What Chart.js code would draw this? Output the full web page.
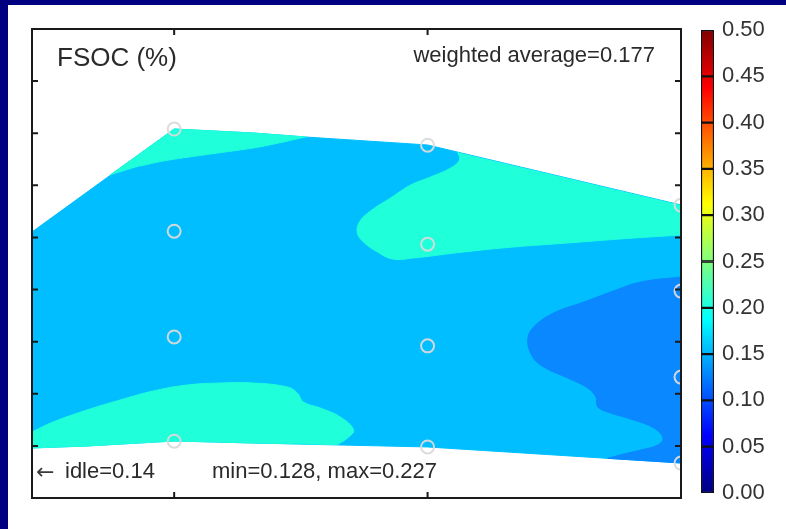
<!DOCTYPE html>
<html>
<head>
<meta charset="utf-8">
<script src="https://cdn.jsdelivr.net/npm/chart.js@4.4.1/dist/chart.umd.min.js"></script>
<style>
html,body{margin:0;padding:0;background:#000080;width:786px;height:529px;overflow:hidden}
#panel{position:absolute;left:8px;top:5px;width:778px;height:524px;background:#fff}
#c1{position:absolute;left:8px;top:5px}
#c2{position:absolute;left:690px;top:0px}
</style>
</head>
<body>
<div id="panel"></div>
<canvas id="c1" width="778" height="524"></canvas>
<canvas id="c2" width="96" height="529"></canvas>
<script>
// ---- data (x: speed units, y: load units) ----
const xTicks = [1, 2];
const yTicks = [1, 2, 3, 4, 5, 6, 7, 8];
const colorLevels = [0.00, 0.05, 0.10, 0.15, 0.20, 0.25, 0.30, 0.35, 0.40, 0.45, 0.50];

const pointX = [1, 1, 1, 1, 2, 2, 2, 2, 3, 3, 3, 3];
const pointY = [7.08, 5.12, 3.09, 1.09, 6.77, 4.87, 2.92, 0.98, 5.62, 3.97, 2.32, 0.67];

// band 0.15-0.20 (whole map hull)
const hullX = [0.439, 1.0, 1.312, 1.518, 2.0, 3.0, 3.0, 2.0, 1.312, 1.0, 0.656, 0.439];
const hullY = [5.105, 7.081, 7.004, 6.928, 6.774, 5.623, 0.672, 0.979, 1.055, 1.094, 0.998, 0.960];

// band 0.20-0.25, top-left sliver
const tealTLX = [0.745, 1.0, 1.312, 1.518, 1.40, 1.312, 1.115, 0.957, 0.866];
const tealTLY = [6.19, 7.081, 7.004, 6.928, 6.80, 6.717, 6.582, 6.467, 6.371];
const tealTLCorners = [0, 1, 2, 3];

// band 0.20-0.25, top-right
const tealTRX = [2.119, 2.126, 2.091, 2.012, 1.933, 1.854, 1.775, 1.731, 1.723, 1.747, 1.802, 1.862, 1.945, 2.142, 2.340, 2.553, 2.814, 3.0, 3.0];
const tealTRY = [6.637, 6.486, 6.333, 6.160, 6.007, 5.757, 5.508, 5.297, 5.085, 4.913, 4.721, 4.586, 4.606, 4.721, 4.817, 4.894, 4.989, 5.047, 5.623];
const tealTRCorners = [0, 17, 18];

// band 0.20-0.25, bottom-left
const tealBLX = [0.439, 0.522, 0.656, 0.787, 0.917, 1.051, 1.182, 1.312, 1.447, 1.486, 1.510, 1.577, 1.656, 1.708, 1.684, 1.644, 1.312, 1.0, 0.656, 0.439];
const tealBLY = [1.267, 1.458, 1.689, 1.881, 2.053, 2.168, 2.207, 2.207, 2.130, 2.015, 1.842, 1.727, 1.554, 1.305, 1.151, 1.025, 1.055, 1.094, 0.998, 0.960];
const tealBLCorners = [0, 15, 16, 17, 18, 19];

// band 0.10-0.15, right side
const darkRX = [3.0, 2.842, 2.723, 2.617, 2.498, 2.419, 2.395, 2.415, 2.458, 2.553, 2.632, 2.664, 2.672, 2.723, 2.814, 2.893, 2.929, 2.909, 2.842, 2.775, 2.711, 3.0];
const darkRY = [4.241, 4.145, 3.953, 3.761, 3.550, 3.282, 3.032, 2.706, 2.514, 2.303, 2.111, 1.938, 1.746, 1.631, 1.497, 1.343, 1.151, 1.017, 0.921, 0.844, 0.761, 0.672];
const darkRCorners = [0, 20, 21];

const weightedAverage = 0.177;
const idleValue = 0.14;
const minValue = 0.128;
const maxValue = 0.227;

// ---- colours ----
const cBand10 = 'rgb(10,136,255)';
const cBand15 = 'rgb(0,190,255)';
const cBand20 = 'rgb(30,255,218)';
const FONT = "'Liberation Sans', Arial, Helvetica, sans-serif";

// Builds a filled region; corner vertices are repeated so the curve keeps a sharp corner there.
function region(xs, ys, corners, color, tension) {
  const pts = [];
  xs.forEach((x, i) => {
    pts.push({x: x, y: ys[i]});
    if (corners.includes(i)) pts.push({x: x, y: ys[i]});
  });
  return {
    data: pts, showLine: true, fill: 'shape',
    backgroundColor: color, borderColor: color, borderWidth: 1,
    pointRadius: 0, pointHoverRadius: 0, tension: tension
  };
}

const framePlugin = {
  id: 'frame',
  afterDraw(chart) {
    const {ctx, chartArea: a, scales: {x, y}} = chart;
    ctx.save();
    ctx.strokeStyle = '#1a1a1a';
    ctx.lineWidth = 2;
    ctx.strokeRect(a.left, a.top, a.right - a.left, a.bottom - a.top);
    ctx.beginPath();
    xTicks.forEach(v => {
      const px = x.getPixelForValue(v);
      ctx.moveTo(px, a.bottom); ctx.lineTo(px, a.bottom - 6);
      ctx.moveTo(px, a.top); ctx.lineTo(px, a.top + 6);
    });
    yTicks.forEach(v => {
      const py = y.getPixelForValue(v);
      ctx.moveTo(a.left, py); ctx.lineTo(a.left + 6, py);
      ctx.moveTo(a.right, py); ctx.lineTo(a.right - 6, py);
    });
    ctx.stroke();

    ctx.fillStyle = '#2a2a2a';
    ctx.textBaseline = 'alphabetic';
    ctx.font = '26px ' + FONT;
    ctx.textAlign = 'left';
    ctx.fillText('FSOC (%)', a.left + 25, a.top + 37);
    ctx.font = '22px ' + FONT;
    ctx.textAlign = 'right';
    ctx.fillText('weighted average=' + weightedAverage.toFixed(3), a.right - 26, a.top + 33);
    ctx.textAlign = 'left';
    ctx.fillText('idle=' + idleValue.toFixed(2), a.left + 33, a.bottom - 20);
    ctx.fillText('min=' + minValue.toFixed(3) + ', max=' + maxValue.toFixed(3), a.left + 180, a.bottom - 20);
    ctx.font = "22px 'DejaVu Sans', sans-serif";
    ctx.fillStyle = '#3a3a3a';
    ctx.fillText('\u2190', a.left + 4, a.bottom - 19);
    ctx.restore();
  }
};

new Chart(document.getElementById('c1'), {
  type: 'scatter',
  data: {
    datasets: [
      {
        data: pointX.map((x, i) => ({x: x, y: pointY[i]})),
        pointRadius: 6.5, pointHoverRadius: 6.5,
        pointBorderColor: 'rgba(218,218,218,0.95)',
        pointBackgroundColor: 'rgba(0,0,0,0)',
        pointBorderWidth: 2, showLine: false, clip: 0
      },
      region(tealTLX, tealTLY, tealTLCorners, cBand20, 0.4),
      region(tealTRX, tealTRY, tealTRCorners, cBand20, 0.4),
      region(tealBLX, tealBLY, tealBLCorners, cBand20, 0.4),
      region(darkRX, darkRY, darkRCorners, cBand10, 0.4),
      region(hullX, hullY, [], cBand15, 0)
    ]
  },
  options: {
    responsive: false, animation: false, events: [],
    layout: {padding: {left: 24, top: 24, right: 105, bottom: 31}},
    plugins: {legend: {display: false}, tooltip: {enabled: false}},
    scales: {
      x: {type: 'linear', display: false, min: 0.439, max: 3.0},
      y: {type: 'linear', display: false, min: 0, max: 9}
    }
  },
  plugins: [framePlugin]
});

// ---- colour bar ----
function jet(t) {
  const c = v => Math.max(0, Math.min(1, v));
  return [c(1.5 - Math.abs(4 * t - 3)), c(1.5 - Math.abs(4 * t - 2)), c(1.5 - Math.abs(4 * t - 1))].map(v => Math.round(v * 255));
}
function jetGradient(context) {
  const chart = context.chart;
  const ys = chart.scales.y;
  if (!chart.chartArea || !ys) return '#000';
  const lo = colorLevels[0], hi = colorLevels[colorLevels.length - 1];
  const g = chart.ctx.createLinearGradient(0, ys.getPixelForValue(lo), 0, ys.getPixelForValue(hi));
  for (let i = 0; i <= 40; i++) {
    const t = i / 40;
    const [r, gg, b] = jet(t);
    g.addColorStop(t, 'rgb(' + r + ',' + gg + ',' + b + ')');
  }
  return g;
}

const bandSizes = colorLevels.slice(1).map((v, i) => +(v - colorLevels[i]).toFixed(2));

new Chart(document.getElementById('c2'), {
  type: 'bar',
  data: {
    labels: [''],
    datasets: bandSizes.map(s => ({
      data: [s], backgroundColor: jetGradient, borderColor: '#111', borderWidth: 1.5,
      borderSkipped: false, barPercentage: 1, categoryPercentage: 1
    }))
  },
  options: {
    responsive: false, animation: false, events: [],
    layout: {padding: {left: 11, top: 30, right: 0, bottom: 36}},
    plugins: {legend: {display: false}, tooltip: {enabled: false}},
    scales: {
      x: {display: false, stacked: true},
      y: {
        stacked: true, position: 'right', min: 0, max: 0.5,
        afterBuildTicks: s => { s.ticks = colorLevels.map(v => ({value: v})); },
        afterFit: s => { s.width = 72; },
        ticks: {callback: v => Number(v).toFixed(2), font: {family: FONT, size: 22}, color: '#333', padding: 8, autoSkip: false},
        grid: {display: false, drawTicks: false},
        border: {display: false}
      }
    }
  }
});
</script>
</body>
</html>
